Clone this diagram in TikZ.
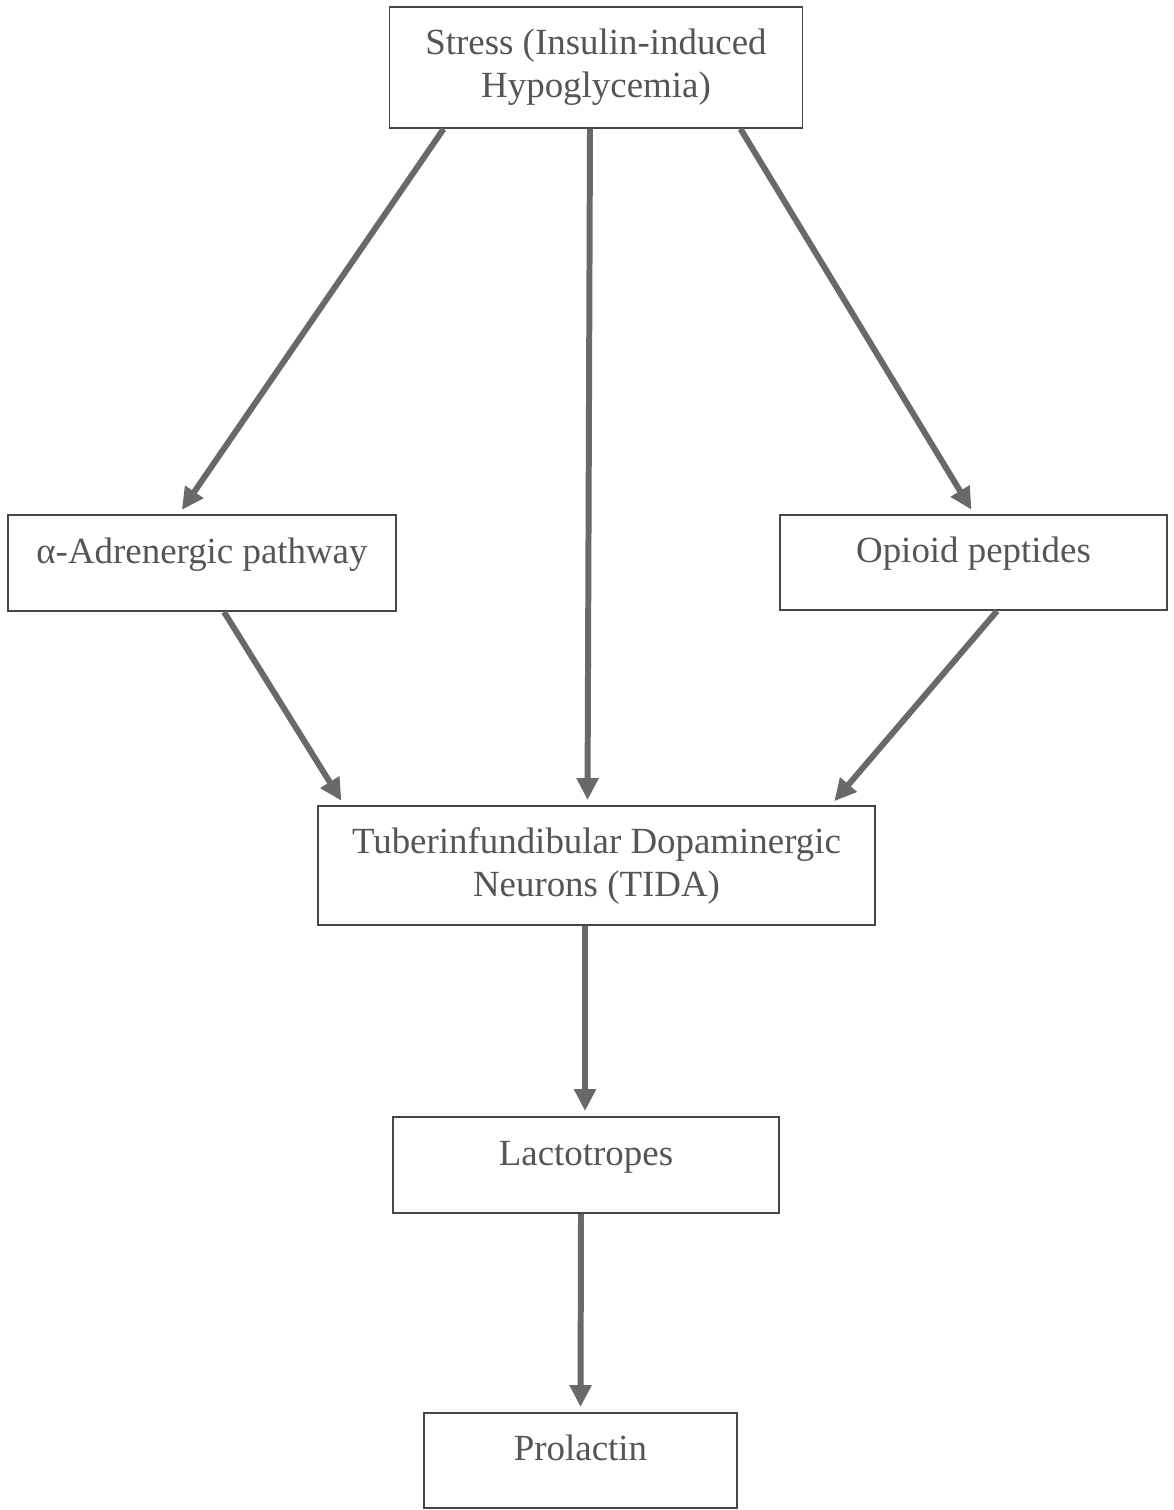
\documentclass[tikz,border=0pt]{standalone}
\usepackage{fontspec}
\setmainfont{Liberation Serif}
\usetikzlibrary{arrows.meta}

\definecolor{boxline}{RGB}{70,70,70}
\definecolor{boxtext}{RGB}{85,85,85}
\definecolor{arrowgray}{RGB}{105,105,105}

\begin{document}
\begin{tikzpicture}
		% We need to define the drawing style
		[box/.style={draw=boxline, line width=1.1pt, text=boxtext, align=center,
			font=\fontsize{21}{24.5}\selectfont, inner sep=0pt},
		onebox/.style={box, text height=0.6cm, text depth=0.6cm},
		flow/.style={draw=arrowgray, line width=3.4pt, shorten >=0.1cm,
			-{Triangle[length=0.44cm, width=0.42cm]}}]

		\useasboundingbox (0,0) rectangle (23.48,-30.2);

		% The stress at the top
		\node[box, minimum width=8.26cm, minimum height=2.42cm] (stress) at (11.92,-1.35)
			{Stress (Insulin-induced\\Hypoglycemia)};

		% The two side pathways
		\node[onebox, minimum width=7.76cm, minimum height=1.92cm] (adren) at (4.04,-11.26)
			{α-Adrenergic pathway};
		\node[onebox, minimum width=7.74cm, minimum height=1.9cm] (opioid) at (19.47,-11.25)
			{Opioid peptides};

		% Neurons, then the cells and the hormone below them
		\node[box, minimum width=11.14cm, minimum height=2.38cm] (tida) at (11.93,-17.31)
			{Tuberinfundibular Dopaminergic\\Neurons (TIDA)};
		\node[onebox, minimum width=7.72cm, minimum height=1.92cm] (lacto) at (11.72,-23.3)
			{Lactotropes};
		\node[onebox, minimum width=6.26cm, minimum height=1.9cm] (prolactin) at (11.61,-29.21)
			{Prolactin};

		% Arrows out of the stress box
		\draw[flow] ([xshift=1.1cm]stress.south west) -- ([xshift=3.44cm]adren.north west);
		\draw[flow] ([xshift=-0.12cm]stress.south) -- ([xshift=-0.18cm]tida.north);
		\draw[flow] ([xshift=7.04cm]stress.south west) -- ([xshift=3.9cm]opioid.north west);

		% Side pathways into the neurons
		\draw[flow] ([xshift=4.34cm]adren.south west) -- ([xshift=0.54cm]tida.north west);
		\draw[flow] ([xshift=4.36cm]opioid.south west) -- ([xshift=10.28cm]tida.north west);

		% Down the chain
		\draw[flow] ([xshift=-0.23cm]tida.south) -- ([xshift=-0.02cm]lacto.north);
		\draw[flow] ([xshift=-0.1cm]lacto.south) -- ([xshift=0cm]prolactin.north);
	\end{tikzpicture}
\end{document}
